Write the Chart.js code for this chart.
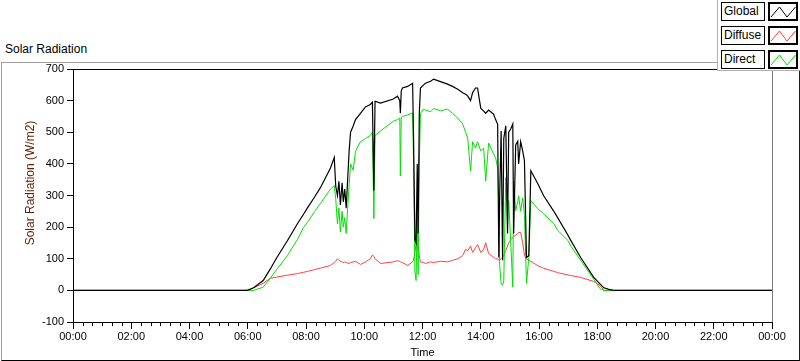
<!DOCTYPE html>
<html>
<head>
<meta charset="utf-8">
<script src="https://cdn.jsdelivr.net/npm/chart.js@4/dist/chart.umd.min.js"></script>
<style>
  html,body{margin:0;padding:0;background:#fff;}
  body{width:800px;height:361px;position:relative;overflow:hidden;font-family:"Liberation Sans",Arial,sans-serif;}
  #frame{position:absolute;left:1px;top:62px;width:797px;height:297px;border-left:1px solid #a0a0a0;border-top:1px solid #a0a0a0;border-right:1px solid #202020;border-bottom:1px solid #000;}
  #ptitle{position:absolute;left:5px;top:42px;font-size:12px;color:#000;line-height:14px;}
  #legend{position:absolute;left:717px;top:0;width:83px;height:71px;background:#fff;border-left:1px solid #b0b0b0;border-bottom:1px solid #b0b0b0;box-sizing:border-box;z-index:3;}
  .lab{position:absolute;left:3px;width:44px;height:19px;border:1px solid #000;box-sizing:border-box;font-size:12px;line-height:17px;padding-left:2px;color:#000;background:#fff;}
  .sw{position:absolute;left:50px;width:30px;height:19px;border:2px solid #000;box-sizing:border-box;background:#fff;}
  .sw svg{position:absolute;left:0;top:0;}
  canvas{position:absolute;left:0;top:0;z-index:2;}
</style>
</head>
<body>
<div id="frame"></div>
<div id="ptitle">Solar Radiation</div>
<div id="legend"></div>
<canvas id="c" width="800" height="361"></canvas>
<script>
// ---- data (time in hours of day, radiation in W/m2) ----
const times = [0,5.98,6.20,6.53,6.77,7.00,7.36,7.70,7.91,8.05,8.30,8.49,8.84,8.97,9.02,9.08,9.13,9.18,9.24,9.28,9.33,9.38,9.43,9.48,9.53,9.62,9.70,9.87,10.04,10.21,10.28,10.33,10.37,10.56,11.00,11.14,11.22,11.24,11.27,11.31,11.49,11.66,11.69,11.74,11.78,11.82,11.85,11.89,11.93,12.04,12.10,12.28,12.38,12.62,12.86,13.03,13.21,13.38,13.48,13.55,13.65,13.72,13.82,13.89,14.00,14.10,14.17,14.27,14.44,14.51,14.58,14.62,14.65,14.70,14.75,14.79,14.86,14.92,14.96,15.03,15.10,15.13,15.20,15.27,15.30,15.37,15.44,15.50,15.57,15.65,15.72,15.96,16.16,16.51,16.64,16.99,17.09,17.43,17.88,18.10,18.23,18.40,18.57,24];
const globalRad = [0,0,8,31,67,104,157,210,240,261,296,324,387,420,330,300,345,270,340,280,320,260,350,440,500,520,540,560,580,588,595,315,598,592,605,614,600,560,630,640,645,655,500,160,150,400,180,560,640,650,655,661,668,660,652,645,636,625,620,615,600,625,640,640,576,567,560,570,557,540,526,104,300,504,95,480,520,180,500,510,526,180,460,472,400,470,441,410,104,110,378,337,299,250,230,175,158,104,41,20,8,3,0,0];
const diffuseRad = [0,0,8,22,38,42,48,53,57,60,66,70,79,88,92,100,95,92,90,88,90,88,86,85,88,90,92,82,90,100,112,108,100,85,90,94,92,90,88,88,79,90,95,120,148,130,140,110,90,88,85,90,88,92,90,95,100,110,130,125,140,120,135,145,120,130,151,116,105,100,100,95,98,100,105,110,126,140,150,160,167,170,175,180,183,183,150,110,100,95,92,78,70,60,56,49,47,41,28,15,0,0,0,0];
const directRad = [0,0,0,10,38,67,110,160,198,215,250,274,320,331,290,210,260,185,250,200,230,180,260,330,400,380,440,470,480,490,500,227,490,504,535,540,545,362,545,550,555,561,420,60,31,240,50,400,560,573,570,565,575,568,573,560,545,526,500,482,378,470,450,470,441,450,346,466,431,420,387,261,80,20,16,30,356,200,284,150,10,346,252,280,299,250,293,240,22,104,284,258,242,211,190,158,140,95,35,5,0,0,0,0];
const seriesNames = ["Global","Diffuse","Direct"];
const seriesColors = ["#000000","#ff4040","#00e000"];
const yTicks = [-100,0,100,200,300,400,500,600,700];
const xTickHours = [0,2,4,6,8,10,12,14,16,18,20,22,24];

function pts(arr){ return times.map((t,i)=>({x:t,y:arr[i]})); }

// legend
const lg = document.getElementById('legend');
const tops = [2,26,50];
seriesNames.forEach((n,i)=>{
  const l = document.createElement('div'); l.className='lab'; l.style.top=tops[i]+'px'; l.textContent=n; lg.appendChild(l);
  const s = document.createElement('div'); s.className='sw'; s.style.top=tops[i]+'px';
  s.innerHTML = '<svg width="26" height="15"><polyline points="1,13 9.5,3 17,13 25.5,3" fill="none" stroke="'+seriesColors[i]+'" stroke-width="1"/></svg>';
  lg.appendChild(s);
});

const decor = {
  id:'decor',
  afterDraw(chart){
    const ctx = chart.ctx, a = chart.chartArea, xs = chart.scales.x;
    ctx.save();
    ctx.strokeStyle = '#000'; ctx.lineWidth = 1;
    ctx.beginPath(); ctx.moveTo(a.left, a.top+0.5); ctx.lineTo(a.right, a.top+0.5); ctx.stroke();
    ctx.strokeStyle = '#808080';
    ctx.beginPath(); ctx.moveTo(Math.round(a.right)+0.5, a.top); ctx.lineTo(Math.round(a.right)+0.5, a.bottom); ctx.stroke();
    ctx.strokeStyle = '#000';
    for(let k=0;k<=72;k++){
      if(k%6===0) continue;
      const x = Math.round(xs.getPixelForValue(k/3))+0.5;
      ctx.beginPath(); ctx.moveTo(x, a.bottom); ctx.lineTo(x, a.bottom+4); ctx.stroke();
    }
    ctx.translate(31,183); ctx.rotate(-Math.PI/2);
    ctx.fillStyle = '#5a1e00'; ctx.font = '12px "Liberation Sans"';
    ctx.textAlign='center'; ctx.textBaseline='middle';
    ctx.fillText('Solar Radiation (W/m2)',0,0);
    ctx.restore();
  }
};

const tickFont = {family:'"Liberation Sans"', size:11};
new Chart(document.getElementById('c'), {
  type:'line',
  data:{datasets:[
    {label:seriesNames[0], data:pts(globalRad), borderColor:seriesColors[0], borderWidth:1.2, pointRadius:0, tension:0, order:1},
    {label:seriesNames[1], data:pts(diffuseRad), borderColor:seriesColors[1], borderWidth:1, pointRadius:0, tension:0, order:3},
    {label:seriesNames[2], data:pts(directRad), borderColor:seriesColors[2], borderWidth:1, pointRadius:0, tension:0, order:2}
  ]},
  options:{
    responsive:false, animation:false, devicePixelRatio:1,
    layout:{padding:{top:69,right:28,left:0,bottom:0}},
    plugins:{legend:{display:false}, tooltip:{enabled:false}},
    scales:{
      x:{type:'linear', min:0, max:24,
        afterFit(s){ s.height = 39; },
        afterBuildTicks(s){ s.ticks = xTickHours.map(v=>({value:v})); },
        ticks:{font:tickFont, color:'#000', padding:1, maxRotation:0, autoSkip:false,
          callback:v=>String(v%24).padStart(2,'0')+':00'},
        grid:{display:true, drawOnChartArea:false, tickLength:7, color:'#000'},
        border:{display:true, color:'#000'},
        title:{display:true, text:'Time', font:tickFont, color:'#000', padding:{top:0,bottom:1}}
      },
      y:{min:-100, max:700,
        afterFit(s){ s.width = 73; },
        afterBuildTicks(s){ s.ticks = yTicks.map(v=>({value:v})); },
        ticks:{font:tickFont, color:'#000', padding:3},
        grid:{display:true, drawOnChartArea:false, tickLength:6, color:'#000'},
        border:{display:true, color:'#000'}
      }
    }
  },
  plugins:[decor]
});
</script>
</body>
</html>
